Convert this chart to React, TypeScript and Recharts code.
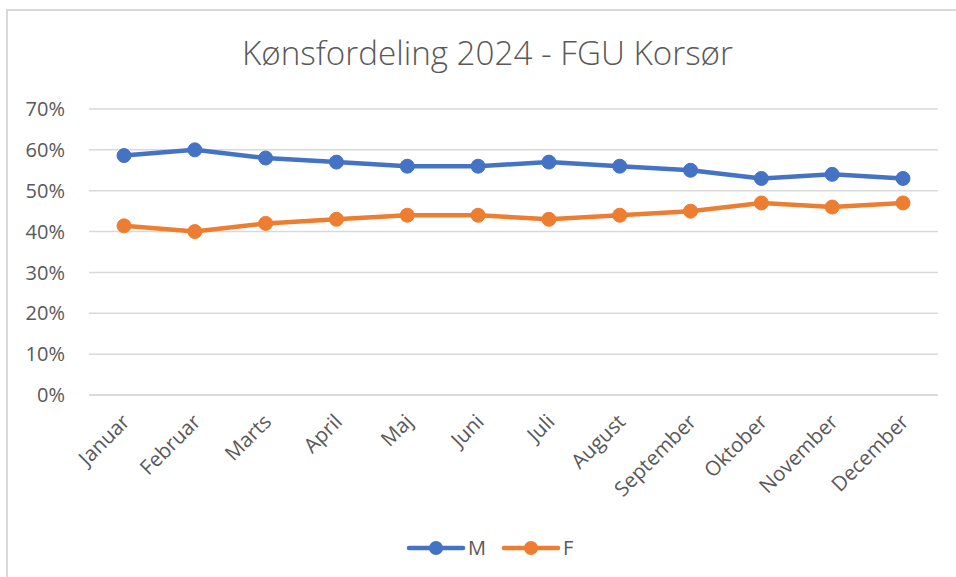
import React from "react";
import { LineChart, Line, XAxis, YAxis, CartesianGrid, Legend } from "recharts";

const months = ["Januar", "Februar", "Marts", "April", "Maj", "Juni", "Juli", "August", "September", "Oktober", "November", "December"];
const seriesM = [58.6, 60, 58, 57, 56, 56, 57, 56, 55, 53, 54, 53];
const seriesF = [41.4, 40, 42, 43, 44, 44, 43, 44, 45, 47, 46, 47];
const yTicks = [0, 10, 20, 30, 40, 50, 60, 70];
const title = "Kønsfordeling 2024 - FGU Korsør";

const BLUE = "#4472C4";
const ORANGE = "#ED7D31";
const TEXT = "#595959";
const FONT = "'Open Sans', 'Noto Sans', sans-serif";

const data = months.map((m, i) => ({ month: m, M: seriesM[i], F: seriesF[i] }));

const XTick = (props: any) => {
  const { x, y, payload } = props;
  const ax = x + 7;
  const ay = y + 26;
  return (
    <text
      x={ax}
      y={ay}
      textAnchor="end"
      fill={TEXT}
      fontSize={20.5}
      fontFamily={FONT}
      transform={`rotate(-45, ${ax}, ${ay})`}
    >
      {payload.value}
    </text>
  );
};

const LegendContent = () => {
  const items = [
    { name: "M", color: BLUE },
    { name: "F", color: ORANGE },
  ];
  return (
    <svg width={956} height={30} style={{ display: "block" }}>
      {items.map((it, i) => {
        const x0 = 409 + i * 95;
        return (
          <g key={it.name}>
            <line x1={x0} y1={15} x2={x0 + 54} y2={15} stroke={it.color} strokeWidth={4.5} strokeLinecap="round" />
            <circle cx={x0 + 27} cy={15} r={7} fill={it.color} />
            <text x={x0 + 59} y={22} fill={TEXT} fontSize={20} fontFamily={FONT}>
              {it.name}
            </text>
          </g>
        );
      })}
    </svg>
  );
};

export default function App() {
  return (
    <div
      style={{
        position: "fixed",
        left: 0,
        top: 0,
        width: 956,
        height: 577,
        overflow: "hidden",
        background: "#fff",
      }}
    >
      <div
        style={{
          position: "absolute",
          left: 6,
          top: 9,
          width: 1100,
          height: 700,
          border: "2px solid #d9d9d9",
          boxSizing: "border-box",
        }}
      />
      <svg width={956} height={100} style={{ position: "absolute", left: 0, top: 0 }}>
        <text
          x={487.5}
          y={65}
          textAnchor="middle"
          fill={TEXT}
          fontSize={33}
          fontWeight={300}
          fontFamily={FONT}
          textLength={491}
          lengthAdjust="spacingAndGlyphs"
        >
          {title}
        </text>
      </svg>
      <div style={{ position: "absolute", left: 0, top: 0 }}>
        <LineChart width={956} height={577} data={data} margin={{ top: 109, right: 18, left: 0, bottom: 72 }}>
          <CartesianGrid vertical={false} stroke="#d9d9d9" strokeWidth={1.5} />
          <XAxis
            dataKey="month"
            interval={0}
            height={110}
            tickLine={false}
            axisLine={{ stroke: "#d9d9d9", strokeWidth: 1.5 }}
            padding={{ left: 35, right: 35 }}
            tick={<XTick />}
            tickSize={0}
          />
          <YAxis
            width={89}
            domain={[0, 70]}
            ticks={yTicks}
            tickFormatter={(v: number) => `${v}%`}
            axisLine={false}
            tickLine={false}
            tickSize={0}
            tickMargin={24}
            tick={{ fill: TEXT, fontSize: 20, fontFamily: FONT }}
          />
          <Legend
            layout="horizontal"
            verticalAlign="middle"
            align="center"
            content={<LegendContent />}
            wrapperStyle={{ position: "absolute", top: 533, left: 0, width: 956, height: 30 }}
          />
          <Line
            type="linear"
            dataKey="M"
            stroke={BLUE}
            strokeWidth={4.5}
            dot={{ r: 7, fill: BLUE, stroke: BLUE, strokeWidth: 1 }}
            activeDot={false}
            isAnimationActive={false}
          />
          <Line
            type="linear"
            dataKey="F"
            stroke={ORANGE}
            strokeWidth={4.5}
            dot={{ r: 7, fill: ORANGE, stroke: ORANGE, strokeWidth: 1 }}
            activeDot={false}
            isAnimationActive={false}
          />
        </LineChart>
      </div>
    </div>
  );
}
